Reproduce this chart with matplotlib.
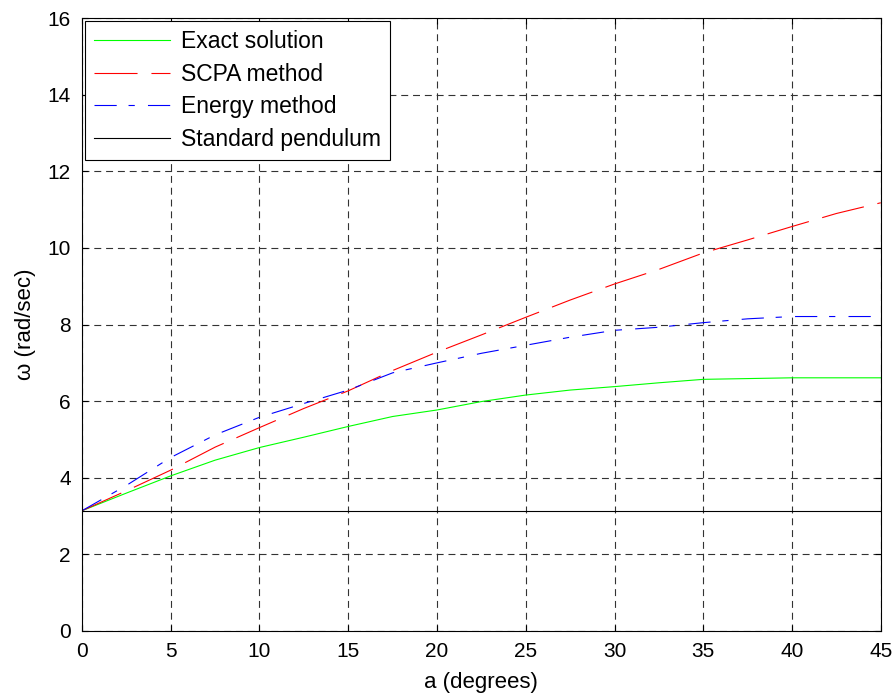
import numpy as np
import matplotlib
matplotlib.use("Agg")
import matplotlib.pyplot as plt

plt.rcParams['font.family'] = ['Liberation Sans', 'DejaVu Sans']
plt.rcParams['lines.scale_dashes'] = False

# datos (cada 2.5 grados)
angulo = np.arange(0, 45.1, 2.5)
exacta = [3.14, 3.60, 4.05, 4.46, 4.79, 5.06, 5.34, 5.60, 5.77, 5.99,
          6.16, 6.29, 6.38, 6.48, 6.57, 6.59, 6.61, 6.61, 6.61]
scpa = [3.14, 3.66, 4.20, 4.80, 5.31, 5.81, 6.27, 6.80, 7.28, 7.73,
        8.19, 8.64, 9.06, 9.44, 9.87, 10.21, 10.56, 10.90, 11.18]
energia = [3.14, 3.80, 4.53, 5.12, 5.58, 5.94, 6.29, 6.74, 7.00, 7.25,
           7.46, 7.67, 7.85, 7.93, 8.05, 8.15, 8.21, 8.21, 8.21]
pendulo = [3.14] * len(angulo)

etiquetas = ['Exact solution', 'SCPA method', 'Energy method', 'Standard pendulum']

fig = plt.figure(figsize=(8.96, 6.98), dpi=100)
ax = fig.add_axes([0.0915, 0.096, 0.8915, 0.878])

ax.plot(angulo, exacta, color='#00ff00', lw=0.8, label=etiquetas[0])
ax.plot(angulo, scpa, color='#ff0000', lw=0.8, dashes=(31, 10), label=etiquetas[1])
ax.plot(angulo, energia, color='#0000ff', lw=0.8, dashes=(16, 8.5, 4.5, 9.5), label=etiquetas[2])
ax.plot(angulo, pendulo, color='black', lw=0.8, label=etiquetas[3])

ax.set_xlim(0, 45)
ax.set_ylim(0, 16)
ax.set_xticks(np.arange(0, 46, 5))
ax.set_yticks(np.arange(0, 17, 2))
ax.grid(True, color='0.2', lw=0.8, linestyle=(0, (5, 3.5)))
ax.tick_params(direction='in', top=True, right=True, length=4, labelsize=15, pad=8)
for s in ax.spines.values():
    s.set_linewidth(0.8)

ax.set_xlabel('a (degrees)', fontsize=16, labelpad=8)
ax.set_ylabel('ω (rad/sec)', fontsize=16, labelpad=8)

leg = ax.legend(loc='upper left', bbox_to_anchor=(0, 1), borderaxespad=0.12,
                fancybox=False, framealpha=1, edgecolor='black', fontsize=16.5,
                handlelength=3.3, handletextpad=0.5, labelspacing=0.42, borderpad=0.4)
leg.get_frame().set_linewidth(0.8)

fig.savefig('out.png', dpi=100)
